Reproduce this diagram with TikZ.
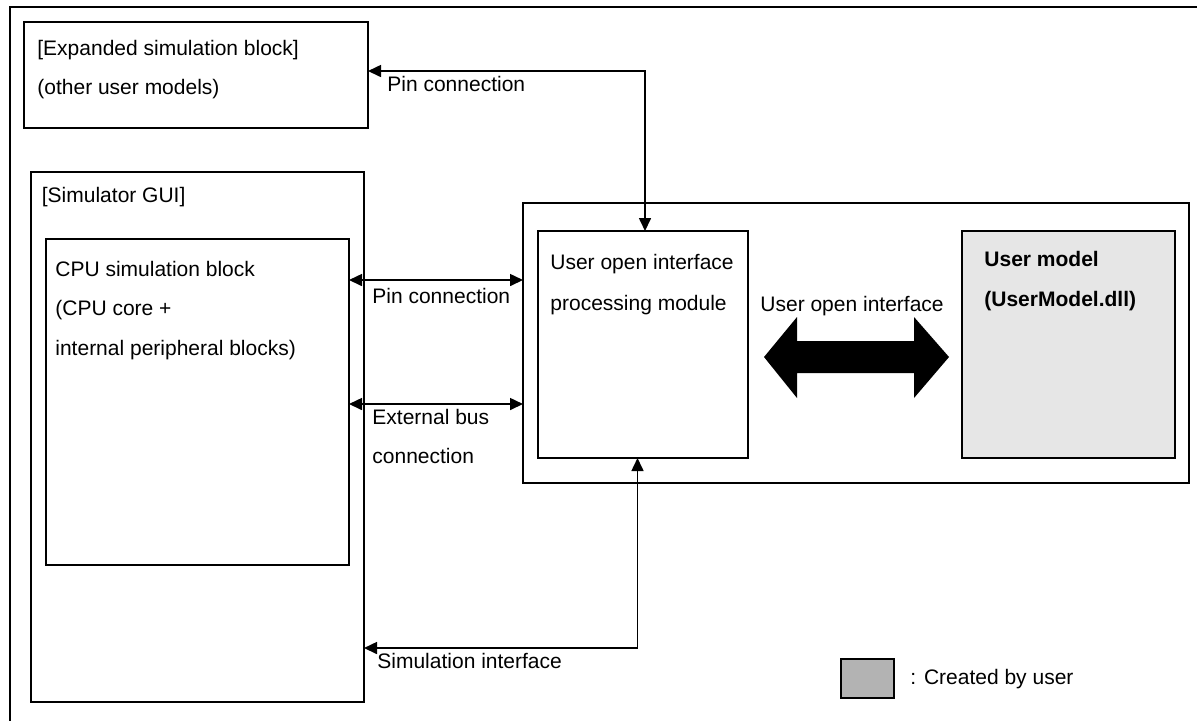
\documentclass[tikz,border=0pt]{standalone}
\usepackage{fontspec}
\setmainfont{Liberation Sans}
\usetikzlibrary{arrows.meta}
\begin{document}
\begin{tikzpicture}[x=0.5pt,y=-0.5pt,
  box/.style={draw=black, line width=1pt, inner sep=0pt, outer sep=0pt},
  txt/.style={inner sep=0pt, anchor=base west, font=\fontsize{10.5pt}{12pt}\selectfont},
  btxt/.style={txt, font=\fontsize{10.5pt}{12pt}\selectfont\bfseries},
  arr/.style={line width=0.8pt, {Triangle[length=6.5pt,width=6pt]}-{Triangle[length=6.5pt,width=6pt]}}]
\useasboundingbox (0,0) rectangle (1197,720);
\begin{scope}
\clip (0,0) rectangle (1197,720);
\draw[line width=1pt] (10,7) rectangle (1230,760);
\end{scope}
% boxes
\node[box, minimum width=172pt, minimum height=53pt] (exp) at (196,75) {};
\node[box, minimum width=166.5pt, minimum height=265pt] (gui) at (197.5,437) {};
\node[box, minimum width=151.5pt, minimum height=163pt] (cpu) at (197.5,402) {};
\node[box, minimum width=333pt, minimum height=140pt] (cont) at (856,343) {};
\node[box, minimum width=105pt, minimum height=113.5pt] (uoi) at (643,344.5) {};
\node[box, fill={rgb,255:red,230;green,230;blue,230}, minimum width=106.5pt, minimum height=113.5pt] (um) at (1068.5,344.5) {};
\node[box, fill={rgb,255:red,179;green,179;blue,179}, minimum width=26.5pt, minimum height=19.5pt] (leg) at (867.5,678.5) {};
% texts
\node[txt] (t1) at (37,55) {[Expanded simulation block]};
\node[txt] (t2) at (37,94) {(other user models)};
\node[txt] (t3) at (41.5,202) {[Simulator GUI]};
\node[txt] (t4) at (55,276) {CPU simulation block};
\node[txt] (t5) at (55,315) {(CPU core +};
\node[txt] (t6) at (55,355) {internal peripheral blocks)};
\node[txt] (t7) at (550,269) {User open interface};
\node[txt] (t8) at (550,310) {processing module};
\node[btxt] (t9) at (984,266) {User model};
\node[btxt] (t10) at (984,306) {(UserModel.dll)};
\node[txt] (l1) at (387,91) {Pin connection};
\node[txt] (l2) at (372,303) {Pin connection};
\node[txt] (l3) at (372,424) {External bus};
\node[txt] (l4) at (372,463) {connection};
\node[txt] (l5) at (760,311) {User open interface};
\node[txt] (l6) at (377,668) {Simulation interface};
\node[txt] (l7) at (910,684) {: Created by user};
% connectors
\coordinate (p1) at (645,71);
\coordinate (ypin) at (0,280);
\coordinate (ybus) at (0,404);
\coordinate (s1) at (637.5,648);
\draw[arr] (uoi.north -| p1) -- (p1) -- (exp.east |- p1);
\draw[arr] (cpu.east |- ypin) -- (cont.west |- ypin);
\draw[arr] (cpu.east |- ybus) -- (cont.west |- ybus);
\draw[arr] (uoi.south -| s1) -- (s1) -- (gui.east |- s1);
% big double arrow
\fill (764,357) -- (797,317) -- (797,341) -- (914,341) -- (914,317) -- (949,357)
  -- (914,398) -- (914,373) -- (797,373) -- (797,398) -- cycle;
\end{tikzpicture}
\end{document}
